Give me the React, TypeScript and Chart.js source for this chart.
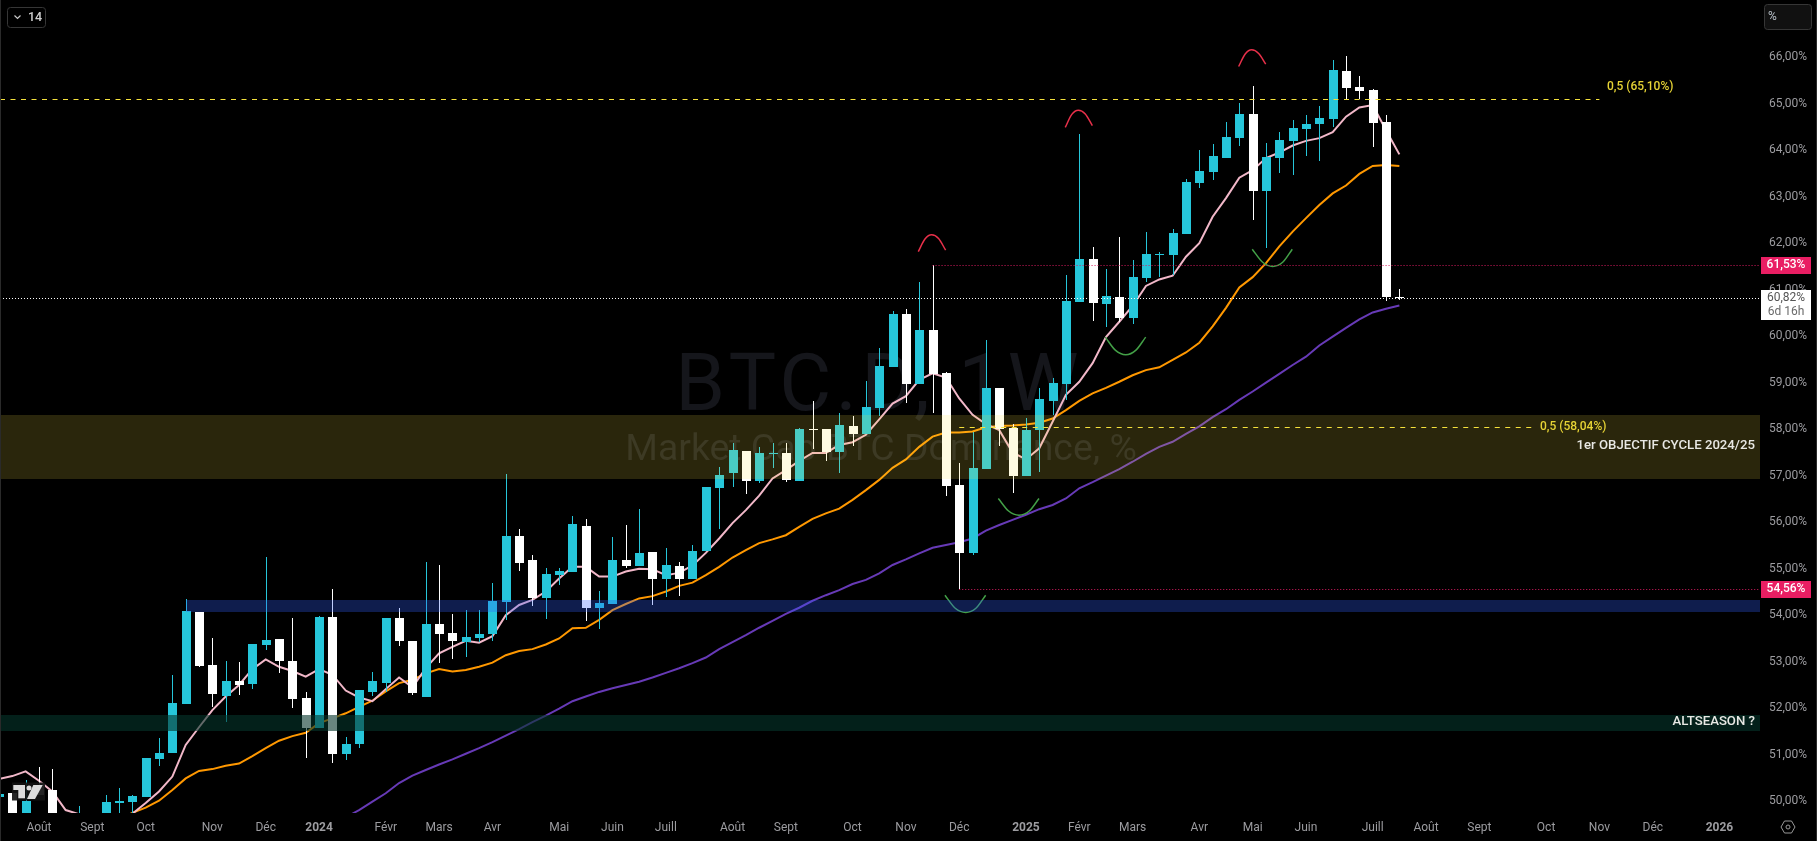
import React, { useEffect, useRef } from "react";
import { Chart, registerables } from "chart.js";

Chart.register(...registerables);

const firstWeek = -1;
const opens = [
  50.10, 50.18, 49.30, 50.35, 50.24, 49.50, 49.20, 49.60, 49.40, 49.96, 49.98, 50.09, 50.91, 51.04, 52.09, 54.07,
  52.93, 52.26, 52.58, 52.52, 53.36, 53.49, 53.02, 52.22, 51.58, 53.96, 51.02, 51.23, 52.35, 52.54, 53.94, 53.45,
  52.24, 53.81, 53.62, 53.42, 53.51, 53.60, 54.28, 55.70, 55.19, 54.37, 54.86, 54.93, 55.92, 54.15, 54.24, 55.19,
  55.06, 55.36, 54.78, 55.06, 54.78, 55.38, 56.74, 57.06, 57.53, 56.89, 57.47, 57.49, 56.89, 58.00, 58.00, 57.51,
  58.07, 57.90, 58.46, 59.34, 60.48, 58.97, 60.13, 59.21, 56.80, 55.34, 57.14, 58.89, 58.03, 56.99, 57.98, 58.61,
  58.97, 60.74, 61.66, 60.69, 60.84, 60.39, 61.25, 61.75, 61.75, 62.20, 63.30, 63.53, 63.83, 64.26, 64.78, 63.12,
  63.83, 64.20, 64.46, 64.56, 64.67, 65.70, 65.36, 65.30, 64.61, 60.84,
];
const highs = [
  50.15, 50.18, 50.46, 50.74, 50.69, 49.60, 49.90, 49.70, 50.13, 50.28, 50.13, 50.93, 51.36, 52.71, 54.35, 54.07,
  53.51, 53.02, 52.99, 53.38, 55.25, 53.49, 53.94, 52.35, 53.98, 54.56, 51.38, 52.39, 52.78, 53.94, 54.16, 53.45,
  55.15, 55.08, 54.03, 54.11, 54.11, 54.69, 57.04, 55.85, 55.29, 55.02, 55.02, 56.13, 56.07, 54.52, 55.68, 55.94,
  56.28, 55.36, 55.45, 55.14, 55.51, 56.76, 57.19, 57.70, 57.53, 57.62, 57.70, 57.70, 58.03, 58.61, 58.00, 58.35,
  58.28, 59.04, 59.75, 60.54, 60.59, 61.17, 61.53, 59.23, 57.27, 57.94, 59.92, 58.89, 58.11, 58.24, 58.89, 59.10,
  61.32, 64.35, 61.92, 61.45, 62.13, 61.64, 62.24, 61.81, 62.31, 63.38, 64.00, 64.13, 64.61, 65.02, 65.38, 64.16,
  64.39, 64.65, 64.76, 64.95, 65.94, 66.03, 65.60, 65.32, 64.76, 61.02,
];
const lows = [
  50.10, 49.20, 49.25, 50.13, 49.40, 49.00, 49.10, 49.20, 49.30, 49.74, 49.70, 50.09, 50.76, 51.04, 52.09, 52.89,
  52.03, 51.70, 52.28, 52.41, 53.25, 52.76, 52.01, 50.93, 51.58, 50.82, 50.89, 51.15, 52.26, 52.35, 53.34, 52.28,
  52.24, 52.97, 53.06, 53.10, 53.42, 53.45, 53.90, 54.95, 54.20, 53.92, 54.65, 54.93, 53.88, 53.70, 54.24, 55.02,
  55.06, 54.22, 54.39, 54.41, 54.78, 55.38, 55.85, 56.76, 56.61, 56.84, 57.17, 56.86, 56.89, 57.57, 57.32, 57.06,
  57.64, 57.90, 58.28, 59.34, 58.56, 58.97, 58.35, 56.56, 54.56, 55.30, 57.14, 57.64, 56.63, 56.99, 57.08, 58.31,
  58.63, 60.74, 60.33, 60.20, 60.31, 60.26, 61.17, 61.27, 61.32, 62.20, 63.19, 63.36, 63.83, 64.09, 62.50, 61.90,
  63.51, 63.47, 63.88, 63.77, 64.50, 65.10, 65.10, 64.07, 60.76, 60.78,
];
const closes = [
  50.15, 49.30, 50.00, 50.13, 49.50, 49.20, 49.60, 49.40, 49.98, 50.00, 50.11, 50.93, 51.04, 52.11, 54.09, 52.91,
  52.31, 52.58, 52.50, 53.38, 53.47, 53.02, 52.20, 51.58, 53.96, 51.02, 51.23, 52.39, 52.58, 53.94, 53.45, 52.33,
  53.81, 53.60, 53.45, 53.53, 53.60, 54.31, 55.70, 55.12, 54.37, 54.89, 54.95, 55.96, 54.15, 54.26, 55.19, 55.06,
  55.34, 54.78, 55.08, 54.78, 55.38, 56.76, 57.02, 57.55, 56.89, 57.49, 57.49, 56.91, 58.00, 57.98, 57.51, 58.09,
  57.90, 58.48, 59.36, 60.48, 58.97, 60.13, 59.19, 56.78, 55.34, 57.17, 58.89, 58.00, 56.99, 57.98, 58.65, 58.99,
  60.76, 61.66, 60.71, 60.86, 60.39, 61.27, 61.77, 61.77, 62.22, 63.32, 63.55, 63.88, 64.28, 64.78, 63.12, 63.85,
  64.22, 64.48, 64.56, 64.69, 65.73, 65.34, 65.27, 64.59, 60.84, 60.82,
];

const pinkAverage = [
  50.48, 50.54, 50.64, 50.44, 50.21, 49.81, 49.72, 49.60, 49.50, 49.52, 49.73, 49.96, 50.21, 50.53, 51.21, 51.59,
  51.96, 52.25, 52.50, 52.84, 53.05, 52.89, 52.80, 52.68, 52.84, 52.72, 52.38, 52.23, 52.15, 52.41, 52.66, 52.45,
  52.86, 53.18, 53.32, 53.45, 53.41, 53.55, 54.00, 54.22, 54.33, 54.51, 54.79, 55.04, 55.04, 54.83, 54.83, 54.94,
  55.00, 54.99, 54.86, 54.91, 55.07, 55.34, 55.65, 55.98, 56.26, 56.57, 56.94, 57.12, 57.32, 57.49, 57.49, 57.66,
  57.72, 57.88, 58.21, 58.55, 58.71, 59.06, 59.20, 59.11, 58.66, 58.31, 58.11, 57.98, 57.50, 57.35, 57.59, 58.16,
  58.74, 59.02, 59.42, 59.98, 60.31, 60.65, 61.08, 61.22, 61.30, 61.71, 62.00, 62.57, 62.97, 63.41, 63.57, 63.83,
  63.95, 64.10, 64.20, 64.26, 64.39, 64.72, 64.92, 64.97, 64.43, 63.91,
];
const orangeAverage = [
  null, null, null, null, null, null, null, null, null, 49.60, 49.75, 49.86, 50.01, 50.24, 50.49, 50.65,
  50.69, 50.76, 50.81, 50.97, 51.14, 51.30, 51.40, 51.47, 51.68, 51.78, 51.89, 52.03, 52.16, 52.36, 52.54, 52.61,
  52.75, 52.84, 52.79, 52.82, 52.89, 52.98, 53.14, 53.23, 53.27, 53.37, 53.50, 53.72, 53.73, 53.90, 54.11, 54.24,
  54.36, 54.41, 54.51, 54.63, 54.70, 54.86, 55.04, 55.24, 55.40, 55.55, 55.63, 55.72, 55.90, 56.07, 56.19, 56.29,
  56.48, 56.69, 56.91, 57.17, 57.35, 57.62, 57.84, 57.93, 57.93, 57.95, 58.04, 58.07, 58.08, 58.10, 58.14, 58.23,
  58.41, 58.61, 58.77, 58.89, 59.02, 59.16, 59.27, 59.33, 59.49, 59.65, 59.86, 60.21, 60.61, 61.05, 61.27, 61.57,
  61.93, 62.25, 62.54, 62.82, 63.07, 63.24, 63.49, 63.66, 63.68, 63.66,
];
const purpleAverage = [
  null, null, null, null, null, null, null, null, null, null, null, null, null, null, null, null,
  null, null, null, null, null, null, null, null, null, null, 49.65, 49.81, 49.99, 50.17, 50.39, 50.55,
  50.67, 50.79, 50.90, 51.02, 51.14, 51.27, 51.41, 51.55, 51.70, 51.84, 51.99, 52.15, 52.25, 52.35, 52.43, 52.50,
  52.57, 52.66, 52.76, 52.86, 52.97, 53.09, 53.27, 53.42, 53.57, 53.73, 53.88, 54.03, 54.16, 54.31, 54.43, 54.54,
  54.67, 54.76, 54.90, 55.08, 55.20, 55.33, 55.45, 55.51, 55.57, 55.65, 55.82, 55.94, 56.05, 56.16, 56.28, 56.37,
  56.51, 56.73, 56.86, 57.00, 57.14, 57.30, 57.47, 57.62, 57.73, 57.90, 58.06, 58.26, 58.43, 58.63, 58.81, 59.00,
  59.19, 59.38, 59.56, 59.80, 59.99, 60.18, 60.36, 60.51, 60.59, 60.66,
];

const priceTicks = [50, 51, 52, 53, 54, 55, 56, 57, 58, 59, 60, 61, 62, 63, 64, 65, 66];
const monthPositions = [2, 6, 10, 15, 19, 23, 28, 32, 36, 41, 45, 49, 54, 58, 63, 67, 71, 76, 80, 84, 89, 93, 97, 102, 106, 110, 115, 119, 123, 128];
const monthLabels = ["Août", "Sept", "Oct", "Nov", "Déc", "2024", "Févr", "Mars", "Avr", "Mai", "Juin", "Juill", "Août", "Sept", "Oct", "Nov", "Déc", "2025", "Févr", "Mars", "Avr", "Mai", "Juin", "Juill", "Août", "Sept", "Oct", "Nov", "Déc", "2026"];

const redArcsX = [
  [67.93, 68.43, 68.93, 69.45, 69.98],
  [78.95, 79.44, 79.93, 80.45, 80.98],
  [91.95, 92.44, 92.93, 93.45, 93.98],
];
const redArcsY = [
  [61.82, 62.09, 62.18, 62.10, 61.85],
  [64.49, 64.77, 64.86, 64.78, 64.53],
  [65.80, 66.07, 66.16, 66.08, 65.85],
];
const greenArcsX = [
  [69.93, 70.7, 71.49, 72.25, 72.98],
  [73.93, 74.7, 75.48, 76.25, 76.98],
  [81.95, 82.7, 83.48, 84.25, 84.98],
  [92.97, 93.75, 94.5, 95.25, 95.97],
];
const greenArcsY = [
  [54.43, 54.15, 54.06, 54.15, 54.43],
  [56.51, 56.24, 56.15, 56.24, 56.51],
  [59.98, 59.70, 59.60, 59.70, 59.98],
  [61.87, 61.59, 61.50, 61.59, 61.87],
];

const goldZone = [56.93, 58.31];
const blueZone = [54.07, 54.33];
const tealZone = [51.51, 51.85];
const blueZoneStart = 13;
const fibUpper = 65.10;
const fibLower = 58.04;
const fibLowerStart = 71;
const fibUpperEnd = 119;
const fibLowerEnd = 114;
const highLevel = 61.53;
const highLevelStart = 69;
const lowLevel = 54.56;
const lowLevelStart = 71;
const lastPrice = 60.82;

const AXIS_FONT = "Roboto, 'Liberation Sans', sans-serif";

function text(ctx: CanvasRenderingContext2D, s: string, x: number, y: number, font: string, color: string, align: CanvasTextAlign = "left") {
  ctx.font = font;
  ctx.fillStyle = color;
  ctx.textAlign = align;
  ctx.textBaseline = "middle";
  ctx.fillText(s, x, y);
}

const chartPlugin = {
  id: "tvDecor",
  beforeDraw(chart: any) {
    const { ctx, width, height } = chart;
    ctx.save();
    ctx.fillStyle = "#000000";
    ctx.fillRect(0, 0, width, height);
    ctx.restore();
  },
  afterDatasetsUpdate(chart: any) {
    chart.data.datasets.forEach((_d: any, k: number) => {
      const meta = chart.getDatasetMeta(k);
      if (meta.type !== "bar") return;
      meta.data.forEach((el: any) => {
        el.x = Math.round(el.x) + 0.5;
        el.y = Math.round(el.y);
        el.base = Math.round(el.base);
        if (el.y === el.base) el.base = el.y + 1;
      });
    });
  },
  beforeDatasetsDraw(chart: any) {
    const { ctx } = chart;
    ctx.save();
    (ctx as any).letterSpacing = "4.3px";
    text(ctx, "BTC.D, 1W", 879, 390, "80px Roboto, sans-serif", "#15161b", "center");
    (ctx as any).letterSpacing = "0px";
    text(ctx, "Market Cap BTC Dominance, %", 881, 451, "37.4px Roboto, sans-serif", "#17181d", "center");
    ctx.restore();
  },
  afterDatasetsDraw(chart: any) {
    const { ctx, chartArea } = chart;
    const xs = chart.scales.x;
    const ys = chart.scales.y;
    ctx.save();
    ctx.beginPath();
    ctx.rect(chartArea.left, chartArea.top, chartArea.right - chartArea.left, chartArea.bottom - chartArea.top);
    ctx.clip();

    const zone = (range: number[], fromX: number, color: string) => {
      const top = Math.round(ys.getPixelForValue(range[1]));
      const bottom = Math.round(ys.getPixelForValue(range[0]));
      ctx.fillStyle = color;
      ctx.fillRect(fromX, top, chartArea.right - fromX, bottom - top);
    };
    zone(goldZone, 0, "rgba(255,228,70,0.165)");
    zone(blueZone, Math.round(xs.getPixelForValue(blueZoneStart)), "rgba(50,95,255,0.3)");
    zone(tealZone, 0, "rgba(5,53,43,0.6)");

    const level = (v: number, x0: number, x1: number, color: string, dash: number[], w: number) => {
      const y = Math.round(ys.getPixelForValue(v)) + 0.5;
      ctx.strokeStyle = color;
      ctx.lineWidth = w;
      ctx.setLineDash(dash);
      ctx.beginPath();
      ctx.moveTo(x0, y);
      ctx.lineTo(x1, y);
      ctx.stroke();
      ctx.setLineDash([]);
    };
    level(lastPrice, 0, chartArea.right, "#ffffff", [1, 2], 1);
    level(highLevel, xs.getPixelForValue(highLevelStart), chartArea.right, "#d81b60", [1, 2], 1);
    level(lowLevel, xs.getPixelForValue(lowLevelStart), chartArea.right, "#d81b60", [1, 2], 1);
    level(fibUpper, 0, xs.getPixelForValue(fibUpperEnd), "#f5e13c", [5, 5.5], 1);
    level(fibLower, xs.getPixelForValue(fibLowerStart), xs.getPixelForValue(fibLowerEnd), "#f5e13c", [5, 5.5], 1);

    const labelFont = `500 12px ${AXIS_FONT}`;
    text(ctx, "0,5 (65,10%)", 1607, 87, labelFont, "#e6d335");
    text(ctx, "0,5 (58,04%)", 1540, 427, labelFont, "#e6d335");
    const noteFont = `500 13.2px ${AXIS_FONT}`;
    text(ctx, "1er OBJECTIF CYCLE 2024/25", 1755, 446, noteFont, "#e8e8e4", "right");
    text(ctx, "ALTSEASON ?", 1755, 722, noteFont, "#e8e8e4", "right");

    // TradingView mark
    ctx.fillStyle = "rgba(18,18,18,0.92)";
    ctx.fillRect(12, 782.5, 33, 18);
    ctx.fillStyle = "#dcdcdc";
    ctx.fillRect(13.3, 785, 11.7, 5);
    ctx.fillRect(18.3, 785, 6.7, 13.3);
    ctx.beginPath();
    ctx.arc(29, 788, 2.5, 0, Math.PI * 2);
    ctx.fill();
    ctx.beginPath();
    ctx.moveTo(33.3, 785);
    ctx.lineTo(42.7, 785);
    ctx.lineTo(35, 799);
    ctx.lineTo(27, 799);
    ctx.closePath();
    ctx.fill();
    ctx.restore();
  },
  afterDraw(chart: any) {
    const { ctx, width, height } = chart;
    const ys = chart.scales.y;
    ctx.save();
    ctx.fillStyle = "#2a2a2a";
    ctx.fillRect(0, 0, 1, height);
    ctx.fillRect(width - 1, 0, 1, height);

    const boxFont = `500 12px ${AXIS_FONT}`;
    const tag = (v: number, s: string) => {
      const y = ys.getPixelForValue(v);
      ctx.fillStyle = "#e91e63";
      ctx.fillRect(1761, Math.round(y - 8.5), 50, 17);
      text(ctx, s, 1786, y, boxFont, "#ffffff", "center");
    };
    tag(highLevel, "61,53%");
    tag(lowLevel, "54,56%");

    ctx.fillStyle = "#ffffff";
    ctx.fillRect(1761, 290, 50, 30);
    text(ctx, "60,82%", 1786, 298, `12px ${AXIS_FONT}`, "#555555", "center");
    text(ctx, "6d 16h", 1786, 312, `12px ${AXIS_FONT}`, "#6a6a6a", "center");

    const rbox = (x: number, y: number, w: number, h: number, fill: string | null) => {
      ctx.beginPath();
      ctx.roundRect(x + 0.5, y + 0.5, w, h, 3);
      if (fill) {
        ctx.fillStyle = fill;
        ctx.fill();
      }
      ctx.strokeStyle = "#363636";
      ctx.lineWidth = 1;
      ctx.stroke();
    };
    rbox(7, 7, 38, 20, null);
    ctx.strokeStyle = "#c8c8c8";
    ctx.lineWidth = 1.2;
    ctx.beginPath();
    ctx.moveTo(14.5, 15.5);
    ctx.lineTo(17.5, 18.5);
    ctx.lineTo(20.5, 15.5);
    ctx.stroke();
    text(ctx, "14", 28, 17.5, `500 12.5px ${AXIS_FONT}`, "#d0d0d0");

    rbox(1764, 4, 47, 25, "#111111");
    text(ctx, "%", 1768, 17, `12px ${AXIS_FONT}`, "#b8c0c8");

    ctx.strokeStyle = "#9a9a9a";
    ctx.lineWidth = 1;
    const cx = 1788;
    const cy = 827;
    ctx.beginPath();
    [[-7, 0], [-3.5, -6], [3.5, -6], [7, 0], [3.5, 6], [-3.5, 6]].forEach(([dx, dy], n) => {
      if (n === 0) ctx.moveTo(cx + dx, cy + dy);
      else ctx.lineTo(cx + dx, cy + dy);
    });
    ctx.closePath();
    ctx.stroke();
    ctx.beginPath();
    ctx.arc(cx, cy, 2, 0, Math.PI * 2);
    ctx.stroke();
    ctx.restore();
  },
};

const noScalePadding = (s: any) => {
  s.paddingTop = 0;
  s.paddingBottom = 0;
  s.paddingLeft = 0;
  s.paddingRight = 0;
};

export default function App() {
  const ref = useRef<HTMLCanvasElement | null>(null);

  useEffect(() => {
    if (!ref.current) return;
    const weeks = opens.map((_o, k) => k + firstWeek);
    const upColor = "#26c6da";
    const downColor = "#ffffff";
    const colors = opens.map((o, k) => (closes[k] < o ? downColor : upColor));
    const line = (label: string, values: (number | null)[], color: string) => ({
      type: "line" as const,
      label,
      data: values.map((y, k) => ({ x: weeks[k], y })),
      borderColor: color,
      borderWidth: 2,
      pointRadius: 0,
      tension: 0,
      spanGaps: false,
      order: 3,
    });
    const arc = (label: string, xs: number[], vs: number[], color: string) => ({
      type: "line" as const,
      label,
      data: xs.map((x, k) => ({ x, y: vs[k] })),
      borderColor: color,
      borderWidth: 1.5,
      pointRadius: 0,
      cubicInterpolationMode: "monotone",
      order: 0,
    });
    const chart = new Chart(ref.current, {
      type: "bar",
      data: {
        datasets: [
          line("MA court", pinkAverage, "#f2b8c9"),
          line("MA moyen", orangeAverage, "#ff9800"),
          line("MA long", purpleAverage, "#673ab7"),
          {
            label: "Mèches",
            data: weeks.map((x, k) => ({ x, y: [lows[k], highs[k]] })),
            backgroundColor: colors,
            barThickness: 1,
            inflateAmount: 0,
            grouped: false,
            order: 2,
          },
          {
            label: "Corps",
            data: weeks.map((x, k) => ({ x, y: [Math.min(opens[k], closes[k]), Math.max(opens[k], closes[k])] })),
            backgroundColor: colors,
            barThickness: 9,
            inflateAmount: 0,
            grouped: false,
            order: 1,
          },
          ...redArcsX.map((xs, k) => arc(`Sommet ${k + 1}`, xs, redArcsY[k], "#e8304a")),
          ...greenArcsX.map((xs, k) => arc(`Creux ${k + 1}`, xs, greenArcsY[k], "#43a047")),
        ] as any,
      },
      options: {
        responsive: false,
        animation: false,
        devicePixelRatio: 1,
        layout: { padding: 0 },
        plugins: { legend: { display: false }, tooltip: { enabled: false } },
        events: [],
        scales: {
          x: {
            type: "linear",
            offset: false,
            min: -0.922,
            max: 131.04,
            grid: { display: false, drawTicks: false },
            border: { display: false },
            afterBuildTicks: (s: any) => {
              s.ticks = monthPositions.map((value) => ({ value }));
            },
            afterFit: (s: any) => {
              s.height = 28;
              noScalePadding(s);
            },
            ticks: {
              autoSkip: false,
              maxRotation: 0,
              padding: 8,
              color: "#9c9ca0",
              font: (c: any) => ({
                family: "Roboto, 'Liberation Sans', sans-serif",
                size: 12,
                weight: /^\d{4}$/.test(monthLabels[c.index] || "") ? "bold" : "normal",
              }),
              callback: (_v: any, k: number) => monthLabels[k],
            },
          },
          y: {
            type: "linear",
            position: "right",
            min: 49.746,
            max: 67.23,
            grid: { display: false, drawTicks: false },
            border: { display: false },
            afterBuildTicks: (s: any) => {
              s.ticks = priceTicks.map((value) => ({ value }));
            },
            afterFit: (s: any) => {
              s.width = 57;
              noScalePadding(s);
            },
            ticks: {
              padding: 9,
              crossAlign: "near",
              color: "#9c9ca0",
              font: { family: "Roboto, 'Liberation Sans', sans-serif", size: 12 },
              callback: (v: any) => `${v},00%`,
            },
          },
        },
      } as any,
      plugins: [chartPlugin],
    });
    return () => chart.destroy();
  }, []);

  return (
    <div style={{ position: "fixed", left: 0, top: 0, width: 1817, height: 841, background: "#000" }}>
      <canvas ref={ref} width={1817} height={841} style={{ display: "block", width: 1817, height: 841 }} />
    </div>
  );
}
